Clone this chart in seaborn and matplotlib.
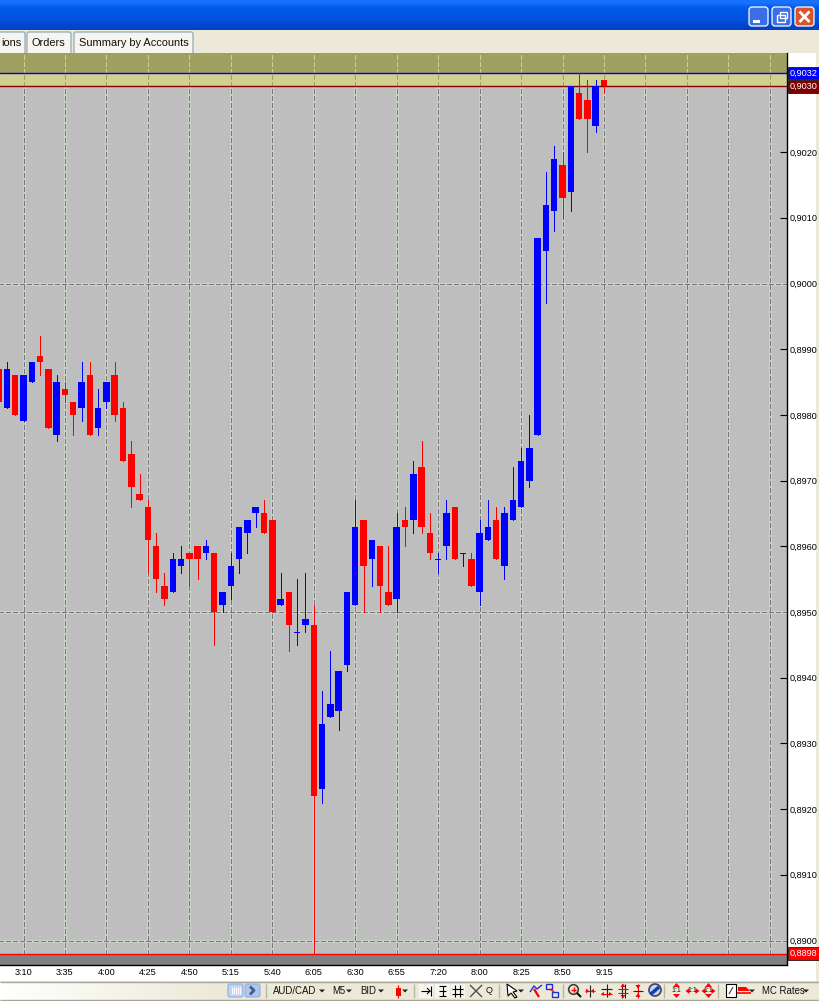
import numpy as np
import pandas as pd
import matplotlib
matplotlib.use("Agg")
import matplotlib.pyplot as plt
import seaborn as sns
from matplotlib.patches import FancyBboxPatch, Rectangle, Polygon, Circle
from matplotlib.transforms import blended_transform_factory

# Candles, five minute bars, first one is cut by the left edge
first_bar = -3
opens = [0.8987, 0.8981, 0.8986, 0.8979, 0.8985, 0.8989, 0.8987, 0.8977, 0.8984, 0.8982,
         0.8981, 0.8986, 0.8978, 0.8982, 0.8986, 0.8981, 0.8974, 0.8968, 0.8966, 0.8960,
         0.8954, 0.8953, 0.8957, 0.8959, 0.8960, 0.8959, 0.8959, 0.8951, 0.8954, 0.8958,
         0.8962, 0.8965, 0.8965, 0.8964, 0.8951, 0.8953, 0.8947, 0.8948, 0.8948, 0.8923,
         0.8934, 0.8935, 0.8942, 0.8951, 0.8964, 0.8958, 0.8960, 0.8953, 0.8952, 0.8964,
         0.8964, 0.8972, 0.8962, 0.8958, 0.8960, 0.8966, 0.8959, 0.8958, 0.8953, 0.8961,
         0.8964, 0.8957, 0.8964, 0.8966, 0.8970, 0.8977, 0.9005, 0.9011, 0.9018, 0.9014,
         0.9029, 0.9028, 0.9024, 0.9031]
closes = [0.8982, 0.8987, 0.8980, 0.8986, 0.8988, 0.8988, 0.8978, 0.8985, 0.8983, 0.8980,
          0.8985, 0.8977, 0.8981, 0.8985, 0.8980, 0.8973, 0.8969, 0.8967, 0.8961, 0.8955,
          0.8952, 0.8958, 0.8958, 0.8958, 0.8958, 0.8960, 0.8950, 0.8953, 0.8957, 0.8963,
          0.8964, 0.8966, 0.8962, 0.8950, 0.8952, 0.8948, 0.8947, 0.8949, 0.8922, 0.8933,
          0.8936, 0.8941, 0.8953, 0.8963, 0.8957, 0.8961, 0.8954, 0.8951, 0.8963, 0.8963,
          0.8971, 0.8963, 0.8959, 0.8958, 0.8965, 0.8958, 0.8959, 0.8954, 0.8962, 0.8963,
          0.8958, 0.8965, 0.8967, 0.8973, 0.8975, 0.9007, 0.9012, 0.9019, 0.9013, 0.9030,
          0.9025, 0.9025, 0.9030, 0.9030]
highs = [0.8987, 0.8988, 0.8986, 0.8986, 0.8988, 0.8992, 0.8987, 0.8986, 0.8985, 0.8982,
         0.8988, 0.8988, 0.8984, 0.8985, 0.8988, 0.8982, 0.8976, 0.8971, 0.8967, 0.8962,
         0.8956, 0.8959, 0.8960, 0.8959, 0.8960, 0.8961, 0.8959, 0.8953, 0.8959, 0.8963,
         0.8964, 0.8966, 0.8967, 0.8964, 0.8956, 0.8953, 0.8955, 0.8956, 0.8951, 0.8938,
         0.8944, 0.8941, 0.8953, 0.8967, 0.8964, 0.8961, 0.8960, 0.8960, 0.8965, 0.8966,
         0.8973, 0.8976, 0.8965, 0.8959, 0.8967, 0.8966, 0.8959, 0.8959, 0.8964, 0.8967,
         0.8966, 0.8966, 0.8972, 0.8975, 0.8980, 0.9007, 0.9017, 0.9021, 0.9020, 0.9030,
         0.9032, 0.9031, 0.9031, 0.9031]
lows = [0.8982, 0.8981, 0.8980, 0.8979, 0.8985, 0.8986, 0.8978, 0.8976, 0.8982, 0.8977,
        0.8979, 0.8977, 0.8977, 0.8981, 0.8979, 0.8973, 0.8966, 0.8967, 0.8956, 0.8953,
        0.8951, 0.8953, 0.8956, 0.8954, 0.8955, 0.8958, 0.8945, 0.8950, 0.8952, 0.8956,
        0.8959, 0.8963, 0.8962, 0.8950, 0.8951, 0.8944, 0.8945, 0.8947, 0.8898, 0.8921,
        0.8934, 0.8932, 0.8941, 0.8951, 0.8950, 0.8954, 0.8950, 0.8951, 0.8950, 0.8960,
        0.8962, 0.8962, 0.8958, 0.8956, 0.8958, 0.8958, 0.8957, 0.8954, 0.8951, 0.8961,
        0.8958, 0.8955, 0.8964, 0.8966, 0.8969, 0.8977, 0.8997, 0.9008, 0.9010, 0.9011,
        0.9025, 0.9020, 0.9023, 0.9029]

time_labels = ["3:10", "3:35", "4:00", "4:25", "4:50", "5:15", "5:40", "6:05",
               "6:30", "6:55", "7:20", "8:00", "8:25", "8:50", "9:15"]
price_ticks = [0.8900, 0.8910, 0.8920, 0.8930, 0.8940, 0.8950, 0.8960, 0.8970,
               0.8980, 0.8990, 0.9000, 0.9010, 0.9020]
grid_prices = [0.8900, 0.8950, 0.9000]
upper_level = 0.9032
bid_level = 0.9030
lower_level = 0.8898

BLUE = "#0000FF"
RED = "#FF0000"
BEIGE = "#ECE9D8"
CHART_BG = "#BEBEBE"

sns.set_theme(style="white")
plt.rcParams["font.family"] = ["Liberation Sans", "DejaVu Sans"]


def seg(ui, xs, ys, color="black", lw=0.8):
    ui.plot(xs, ys, color=color, lw=lw, solid_capstyle="butt", zorder=5)


def tri(ui, points, color=RED):
    ui.add_patch(Polygon(points, fc=color, ec="none", zorder=6))


def drop_arrow(ui, x, y=991):
    tri(ui, [[x - 3, y - 1.5], [x + 3, y - 1.5], [x, y + 1.5]], "#202020")


def red_updown(ui, x):
    tri(ui, [[x - 3.5, 987], [x + 3.5, 987], [x, 983]])
    tri(ui, [[x - 3.5, 994], [x + 3.5, 994], [x, 998]])


def red_leftright(ui, x):
    tri(ui, [[x - 3, 988], [x - 3, 994], [x - 7, 991]])
    tri(ui, [[x + 3, 988], [x + 3, 994], [x + 7, 991]])


def draw_window(ui):
    # title bar, a vertical gradient
    shades = np.array([[0.10, 0.45, 1.0], [0.0, 0.36, 0.93], [0.0, 0.34, 0.90],
                       [0.0, 0.33, 0.88], [0.0, 0.30, 0.85], [0.0, 0.26, 0.78]])
    ui.imshow(shades[:, None, :], extent=[0, 819, 30, 0], aspect="auto", interpolation="bilinear", zorder=1)
    ui.add_patch(Rectangle((0, 30), 819, 971, fc=BEIGE, ec="none", zorder=1))
    ui.add_patch(Rectangle((786, 53), 30, 928, fc="white", ec="none", zorder=1))
    ui.add_patch(Rectangle((0, 964), 787, 17, fc="white", ec="none", zorder=1))
    seg(ui, [0, 819], [981.5, 981.5], "#A8A698", 1)
    seg(ui, [0, 819], [1000, 1000], "#A8A698", 1)
    fade = np.linspace([1, 1, 1], [0.925, 0.914, 0.847], 50)[None, :, :]
    ui.imshow(fade, extent=[0, 228, 1000, 982], aspect="auto", zorder=2)

    # min, restore, close buttons
    for x0, face in [(749, "#3C6EE6"), (772, "#3C6EE6"), (795, "#D9532F")]:
        ui.add_patch(FancyBboxPatch((x0, 7), 19, 19, boxstyle="round,pad=0,rounding_size=3",
                                    fc=face, ec="white", lw=0.9, zorder=3))
    ui.add_patch(Rectangle((753, 20), 7, 2.5, fc="white", ec="none", zorder=4))
    ui.add_patch(Rectangle((776.5, 15), 8, 7, fc="none", ec="white", lw=1, zorder=4))
    ui.add_patch(Rectangle((780, 12), 7, 6, fc="none", ec="white", lw=1, zorder=4))
    seg(ui, [799.5, 809.5], [11.5, 22], "white", 2)
    seg(ui, [809.5, 799.5], [11.5, 22], "white", 2)

    # tabs
    for x0, x1 in [(-10, 25), (27, 71), (74, 193)]:
        ui.add_patch(FancyBboxPatch((x0, 32), x1 - x0, 30, boxstyle="round,pad=0,rounding_size=2",
                                    fc="#F6F5EF", ec="#93A9B8", lw=0.9, zorder=2))
    for x, label in [(1, "ions"), (32, "Orders"), (79, "Summary by Accounts")]:
        ui.text(x, 43, label, fontsize=7.9, color="#101010", va="center", ha="left", zorder=3)

    # toolbar
    ui.add_patch(FancyBboxPatch((228, 984), 15, 13, boxstyle="round,pad=0,rounding_size=2",
                                fc="#C2D4F5", ec="#8FAEE6", lw=0.8, zorder=3))
    for x in range(232, 241, 2):
        seg(ui, [x, x], [987, 994], "#FFFFFF", 0.8)
    ui.add_patch(FancyBboxPatch((245, 984), 15, 13, boxstyle="round,pad=0,rounding_size=2",
                                fc="#AFC6EE", ec="#8FAEE6", lw=0.8, zorder=3))
    seg(ui, [250, 254, 250], [986.5, 990.5, 994.5], "#44607F", 2)
    for x in [266, 414, 499, 563, 664, 718]:
        seg(ui, [x, x], [984, 998], "#B8B6A8", 1)
    for x, label in [(273, "AUD/CAD"), (332, "M5"), (360, "BID"), (762, "MC Rates")]:
        ui.text(x, 990.5, label, fontsize=6.9, color="#101010", va="center", ha="left", zorder=5)
    for x in [322, 349, 381, 405, 521, 752, 806]:
        drop_arrow(ui, x)

    # candle button
    seg(ui, [398, 398], [985, 998], RED, 0.8)
    ui.add_patch(Rectangle((395.5, 988), 5, 7.5, fc=RED, ec="none", zorder=5))

    # boxed toggle buttons
    for x0, x1 in [(419, 433), (435, 450), (451, 465)]:
        ui.add_patch(Rectangle((x0, 984), x1 - x0, 14, fc="#F6F5EF", ec="none", zorder=3))
    seg(ui, [421, 430], [991, 991])
    seg(ui, [427, 430, 427], [988, 991, 994])
    seg(ui, [431, 431], [986, 996])
    seg(ui, [439, 446], [986, 986])
    seg(ui, [439, 446], [996, 996])
    seg(ui, [442.5, 442.5], [986, 996])
    seg(ui, [439, 446], [991, 991])
    seg(ui, [455, 455], [985, 997])
    seg(ui, [460, 460], [985, 997])
    seg(ui, [452, 463], [988.5, 988.5])
    seg(ui, [452, 463], [993.5, 993.5])
    seg(ui, [470, 482], [985, 997], "#505050", 1)
    seg(ui, [482, 470], [985, 997], "#505050", 1)
    ui.text(489, 990.5, "Q", fontsize=6.5, color="#101010", ha="center", va="center", zorder=5)

    # cursor and drawing tools
    ui.add_patch(Polygon([[507, 984], [517, 991], [513, 992], [517, 997], [515, 998], [511, 993], [508, 996]],
                         fc="white", ec="black", lw=0.8, zorder=5))
    seg(ui, [530, 534, 537, 542], [992, 986, 989, 985], "#2030D0", 1)
    seg(ui, [534, 539], [989, 997], RED, 1.6)
    ui.add_patch(Rectangle((546, 984), 6, 5, fc="none", ec="#2030D0", lw=1, zorder=5))
    ui.add_patch(Rectangle((552, 992), 6, 5, fc="none", ec="#2030D0", lw=1, zorder=5))
    seg(ui, [550, 554], [989, 992], RED, 1)

    # zoom and scale tools
    ui.add_patch(Circle((573.5, 989.5), 4.8, fc="#E8E4D8", ec="#404040", lw=1.2, zorder=5))
    seg(ui, [571, 576], [989.5, 989.5], RED, 1)
    seg(ui, [573.5, 573.5], [987, 992], RED, 1)
    seg(ui, [577, 581], [993, 997], "black", 1.4)

    seg(ui, [590, 590], [985, 997], "#202020", 0.8)
    seg(ui, [585, 595], [991, 991], RED, 0.8)
    tri(ui, [[586, 988.5], [586, 993.5], [589, 991]])
    tri(ui, [[594, 988.5], [594, 993.5], [591, 991]])

    seg(ui, [606.5, 606.5], [984, 997], "#202020", 0.8)
    seg(ui, [601, 612], [989, 989], "#202020", 0.8)
    seg(ui, [601, 612], [994, 994], RED, 0.8)
    tri(ui, [[604, 992], [604, 996], [601, 994]])
    tri(ui, [[609, 992], [609, 996], [612, 994]])

    seg(ui, [621.5, 621.5], [984, 998], "#202020", 0.8)
    seg(ui, [624.5, 624.5], [984, 998], "#202020", 0.8)
    seg(ui, [618, 628], [989, 989], RED, 0.8)
    seg(ui, [618, 628], [993, 993], RED, 0.8)
    tri(ui, [[620.5, 987], [625.5, 987], [623, 983.5]])
    tri(ui, [[620.5, 995], [625.5, 995], [623, 998.5]])

    seg(ui, [638, 638], [984, 998], RED, 0.8)
    seg(ui, [633, 643], [991, 991], "#202020", 0.8)
    tri(ui, [[635.5, 985], [640.5, 985], [638, 989]])
    tri(ui, [[635.5, 997], [640.5, 997], [638, 993]])

    ui.add_patch(Circle((655, 990), 6, fc="#C8D4E8", ec="#404060", lw=1.2, zorder=5))
    seg(ui, [651, 659], [994, 987], "#1040C0", 2.5)

    for x in [676.5, 692.5, 708.5]:
        ui.text(x, 990.8, "1:1", fontsize=5, color="#101010", ha="center", va="center", zorder=7)
    red_updown(ui, 676.5)
    red_leftright(ui, 692.5)
    red_updown(ui, 708.5)
    red_leftright(ui, 708.5)

    ui.add_patch(Rectangle((726, 984), 10, 13, fc="white", ec="black", lw=0.8, zorder=5))
    seg(ui, [729, 733], [994, 987], "#404040", 0.8)
    ui.add_patch(Polygon([[738, 987], [746, 987], [750, 991], [738, 991]], fc=RED, ec="none", zorder=5))
    seg(ui, [737, 751], [993, 993], RED, 1.2)


def draw_chart(ax, candles):
    # price zones behind the bars
    ax.axhspan(upper_level, 1, color="#A0A060", lw=0, zorder=0)
    ax.axhspan(bid_level, upper_level, color="#D0D090", lw=0, zorder=0)
    ax.axhspan(0, lower_level, color="#808080", lw=0, zorder=0)

    tick_bars = np.arange(len(time_labels)) * 5
    grid_bars = np.arange(0, 91, 5)
    dash = (0, (4, 2))
    zones = [(lower_level, bid_level, "#C8D0C8", "#787878"),
             (bid_level, upper_level, None, "#A0A060"),
             (upper_level, 1, None, "#D0D090")]
    for low, high, under, over in zones:
        if under:
            ax.vlines(grid_bars, low, high, color=under, lw=0.75, zorder=1, antialiased=False)
        ax.vlines(grid_bars, low, high, color=over, lw=0.75, linestyles=dash, zorder=1.1, antialiased=False)
    ax.hlines(grid_prices, -10, 100, color="#C8D0C8", lw=0.75, zorder=1, antialiased=False)
    ax.hlines(grid_prices, -10, 100, color="#787878", lw=0.75, linestyles=dash, zorder=1.1, antialiased=False)

    ax.axhline(upper_level, color="#0000E0", lw=1, zorder=2)
    ax.axhline(bid_level, color="#8B0000", lw=1, zorder=2)
    ax.axhline(lower_level, color=RED, lw=1, zorder=2)

    for color, part in candles.groupby("color"):
        # wicks
        wicks = part.melt(id_vars="bar", value_vars=["high", "low"], value_name="price")
        sns.lineplot(data=wicks, x="bar", y="price", units="bar", estimator=None, color=color, lw=0.7,
                     legend=False, ax=ax, solid_capstyle="butt", antialiased=False, zorder=3)
        # bodies
        bodies = part[part["height"] > 0]
        sns.barplot(data=bodies, x="bar", y="height", bottom=bodies["bottom"].values, native_scale=True,
                    width=0.78, color=color, saturation=1, errorbar=None, linewidth=0, ax=ax,
                    antialiased=False, zorder=4)
        # open equals close, only a short dash
        flat = part[part["height"] == 0]
        ax.hlines(flat["bottom"], flat["bar"] - 0.4, flat["bar"] + 0.2, color=color, lw=0.7, zorder=4,
                  antialiased=False)

    # pixel scale: 0,8950 sits at y=612, 65.7 px for 0,0010
    ax.set_ylim(0.8950 - (964.5 - 612) / 65700, 0.8950 + (612 - 53) / 65700)
    ax.set_xlim(-23.5 / 8.293, (786.5 - 23.5) / 8.293)

    ax.set_xticks(tick_bars)
    ax.set_xticklabels(time_labels)
    ax.yaxis.tick_right()
    ax.set_yticks(price_ticks)
    ax.set_yticklabels([f"{p:.4f}".replace(".", ",") for p in price_ticks])
    ax.tick_params(axis="x", direction="in", length=4.3, width=0.8, pad=2.5, labelsize=6.6,
                   color="black", labelcolor="black")
    ax.tick_params(axis="y", direction="in", length=5, width=0.8, pad=2.2, labelsize=6.6,
                   color="black", labelcolor="black")
    ax.set_xlabel("")
    ax.set_ylabel("")
    ax.grid(False)
    ax.spines["top"].set_visible(False)
    ax.spines["left"].set_visible(False)
    ax.spines["right"].set_color("black")
    ax.spines["bottom"].set_color("black")
    ax.spines["right"].set_linewidth(1)
    ax.spines["bottom"].set_linewidth(1)

    # boxed price labels on the scale
    trans = blended_transform_factory(ax.transAxes, ax.transData)
    for level, face in [(upper_level, "#0000FF"), (bid_level, "#800000"), (lower_level, "#FF0000")]:
        ax.text(1.0045, level, f"{level:.4f}".replace(".", ","), transform=trans, fontsize=6.6, color="white",
                va="center", ha="left", clip_on=False,
                bbox=dict(fc=face, ec="black", lw=0.5, pad=1.2), zorder=6)


def main():
    bars = np.arange(len(opens)) + first_bar
    candles = pd.DataFrame({"bar": bars, "open": opens, "high": highs, "low": lows, "close": closes})
    candles["color"] = np.where(candles["close"] >= candles["open"], BLUE, RED)
    candles["bottom"] = candles[["open", "close"]].min(axis=1)
    candles["height"] = (candles["close"] - candles["open"]).abs().round(4)

    fig = plt.figure(figsize=(8.19, 10.01), dpi=100)

    ui = fig.add_axes([0, 0, 1, 1], zorder=0)
    ui.set_xlim(0, 819)
    ui.set_ylim(1001, 0)
    ui.axis("off")
    draw_window(ui)
    ui.set_xlim(0, 819)
    ui.set_ylim(1001, 0)

    ax = fig.add_axes([0, 1 - 964.5 / 1001, 786.5 / 819, (964.5 - 53) / 1001], zorder=1)
    ax.set_facecolor(CHART_BG)
    draw_chart(ax, candles)

    fig.savefig("out.png", dpi=100)
    plt.close(fig)


main()
